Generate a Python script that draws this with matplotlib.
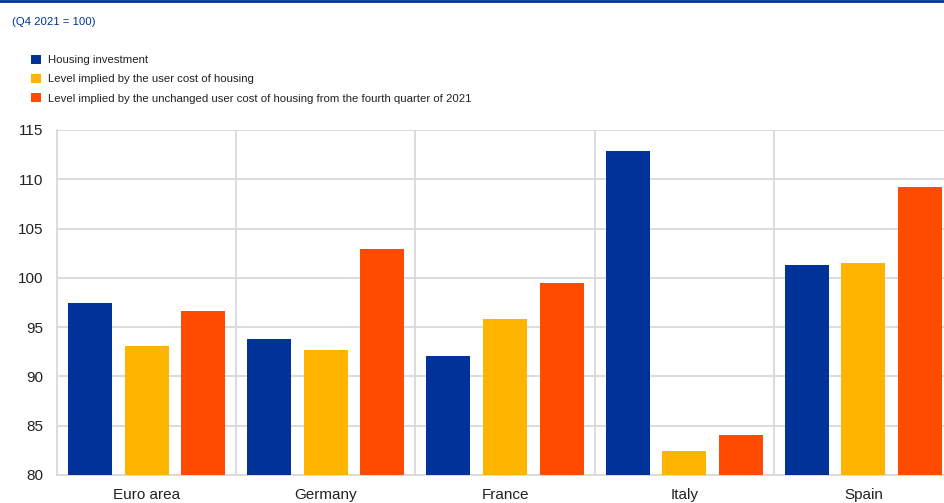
import matplotlib
matplotlib.use("Agg")
import matplotlib.pyplot as plt
from matplotlib.patches import Patch
from matplotlib.lines import Line2D
import numpy as np

categories = ["Euro area", "Germany", "France", "Italy", "Spain"]
housing_investment = [97.4, 93.8, 92.1, 112.9, 101.3]
user_cost_level = [93.1, 92.7, 95.8, 82.4, 101.5]
unchanged_user_cost_level = [96.6, 102.9, 99.5, 84.1, 109.2]
series_labels = [
    "Housing investment",
    "Level implied by the user cost of housing",
    "Level implied by the unchanged user cost of housing from the fourth quarter of 2021",
]
subtitle = "(Q4 2021 = 100)"
yticks = [80, 85, 90, 95, 100, 105, 110, 115]

colors = ["#003299", "#FFB400", "#FF4B00"]
W, H = 944, 503

fig = plt.figure(figsize=(W / 100, H / 100), dpi=100)
ax = fig.add_axes([57 / W, 28 / H, 896 / W, 345 / H])

x = np.arange(len(categories))
bw = 0.245
off = 0.316
for i, (vals, c) in enumerate(zip([housing_investment, user_cost_level, unchanged_user_cost_level], colors)):
    ax.bar(x + (i - 1) * off, np.array(vals) - 80, bottom=80, width=bw, color=c, zorder=3)

ax.set_ylim(80, 115)
ax.set_xlim(-0.5, len(categories) - 0.5)
ax.set_yticks(yticks)
ax.set_yticklabels([str(t) for t in yticks], fontsize=11, family="Liberation Sans", color="#222222")
ax.set_xticks(x)
ax.set_xticklabels(categories, fontsize=11, family="Liberation Sans", color="#222222")
ax.tick_params(axis="both", length=0)
ax.tick_params(axis="x", pad=9.5)
ax.tick_params(axis="y", pad=10)
ax.grid(axis="y", color="#d9d9d9", linewidth=1.3, zorder=0)
for b in np.arange(0.5, len(categories) - 0.5, 1):
    ax.axvline(b, color="#d9d9d9", linewidth=1.3, zorder=0)
for s in ["top", "right"]:
    ax.spines[s].set_visible(False)
for s in ["left", "bottom"]:
    ax.spines[s].set_color("#d9d9d9")
    ax.spines[s].set_linewidth(1.3)

# top rule
fig.add_artist(Line2D([0, 1], [1 - 1 / H, 1 - 1 / H], transform=fig.transFigure, color="#003299", linewidth=2))

size = 8.2
em = size * 100 / 72
fig.text(12 / W, 1 - 22 / H, subtitle, fontsize=size, family="Liberation Sans", color="#003299",
         va="center", ha="left")

handles = [Patch(facecolor=c, edgecolor="none") for c in colors]
leg = fig.legend(handles, series_labels, loc="upper left", bbox_to_anchor=(31 / W, 1 - 55 / H),
                 frameon=False, handlelength=9.5 / em, handleheight=9.5 / em,
                 handletextpad=7 / em,
                 labelspacing=(20 - em) / em, borderpad=0, borderaxespad=0,
                 prop={"family": "Liberation Sans", "size": size})
for t in leg.get_texts():
    t.set_color("#222222")

fig.savefig("out.png", dpi=100)
